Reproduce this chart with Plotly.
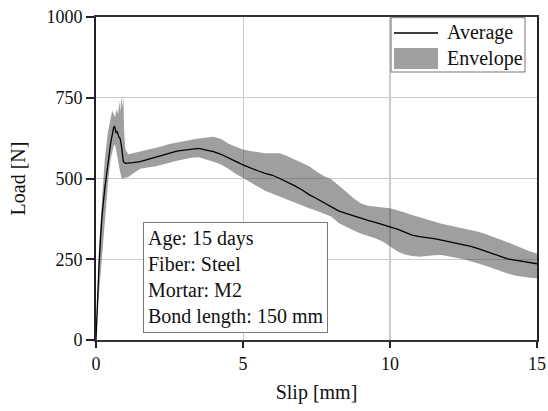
import plotly.graph_objects as go

# ---- data ----
avg_x = [0, 0.05, 0.1, 0.15, 0.2, 0.3, 0.4, 0.5, 0.6, 0.63, 0.68, 0.72, 0.78, 0.82, 0.87, 0.93,
         1.0, 1.1, 1.25, 1.5, 1.75, 2.0, 2.25, 2.5, 2.75, 3.0, 3.25, 3.5, 3.75, 4.0, 4.25, 4.5, 4.75,
         5.0, 5.25, 5.5, 5.75, 6.0, 6.25, 6.5, 6.75, 7.0, 7.25, 7.5, 7.75, 8.0, 8.25, 8.5, 8.75,
         9.0, 9.25, 9.5, 9.75, 10.0, 10.25, 10.5, 10.75, 11.0, 11.25, 11.5, 11.75, 12.0, 12.25,
         12.5, 12.75, 13.0, 13.25, 13.5, 13.75, 14.0, 14.25, 14.5, 14.75, 15.0]
avg_y = [0, 130, 230, 310, 380, 470, 540, 610, 658, 662, 642, 645, 628, 624, 598, 552,
         547, 547, 549, 552, 559, 566, 572, 579, 585, 588, 591, 593, 588, 583, 575, 565, 553,
         542, 532, 524, 516, 510, 500, 490, 478, 465, 450, 438, 425, 412, 400, 392, 384,
         377, 370, 364, 357, 351, 343, 334, 325, 320, 318, 314, 309, 304, 300,
         296, 290, 283, 275, 266, 258, 251, 247, 243, 239, 236]

up_x = [0, 0.1, 0.2, 0.25, 0.3, 0.4, 0.5, 0.55, 0.6, 0.65, 0.7, 0.75, 0.8, 0.83, 0.86, 0.9, 0.93,
        0.96, 1.0, 1.1, 1.25, 1.5, 1.75, 2.0, 2.25, 2.5, 2.75, 3.0, 3.25, 3.5, 3.75, 4.0, 4.25,
        4.5, 4.75, 5.0, 5.25, 5.5, 5.75, 6.0, 6.25, 6.5, 6.75, 7.0, 7.25, 7.5, 7.75, 8.0, 8.25,
        8.5, 8.75, 9.0, 9.25, 9.5, 9.75, 10.0, 10.25, 10.5, 10.75, 11.0, 11.25, 11.5, 11.75, 12.0,
        12.25, 12.5, 12.75, 13.0, 13.25, 13.5, 13.75, 14.0, 14.25, 14.5, 14.75, 15.0]
up_y = [0, 280, 430, 500, 560, 640, 695, 710, 700, 690, 715, 700, 740, 705, 755, 720, 760,
        640, 590, 575, 578, 583, 588, 593, 600, 607, 612, 617, 620, 624, 627, 629, 622,
        608, 598, 590, 585, 582, 578, 578, 578, 570, 560, 550, 538, 522, 508, 498, 480,
        460, 440, 423, 416, 412, 410, 408, 402, 395, 387, 380, 374, 367, 360, 355,
        350, 346, 342, 335, 328, 320, 312, 303, 293, 283, 275, 268]

lo_x = [0, 0.1, 0.2, 0.3, 0.42, 0.5, 0.6, 0.65, 0.7, 0.8, 0.87, 1.0, 1.1, 1.25, 1.5, 1.75,
        2.0, 2.25, 2.5, 2.75, 3.0, 3.25, 3.5, 3.75, 4.0, 4.25, 4.5, 4.75, 5.0, 5.25, 5.5, 5.75,
        6.0, 6.25, 6.5, 6.75, 7.0, 7.25, 7.5, 7.75, 8.0, 8.25, 8.5, 8.75, 9.0, 9.25, 9.5, 9.75,
        10.0, 10.25, 10.5, 10.75, 11.0, 11.25, 11.5, 11.75, 12.0, 12.25, 12.5, 12.75, 13.0,
        13.25, 13.5, 13.75, 14.0, 14.25, 14.5, 14.75, 15.0]
lo_y = [0, 140, 270, 370, 500, 560, 600, 605, 580, 530, 500, 502, 505, 515, 530, 534,
        537, 543, 549, 555, 560, 564, 566, 560, 552, 543, 530, 515, 500, 488, 475, 462,
        452, 445, 435, 425, 417, 408, 400, 392, 382, 362, 350, 340, 330, 322, 315, 305,
        289, 275, 265, 260, 258, 260, 262, 263, 260, 255, 250, 244, 238,
        230, 222, 213, 206, 200, 196, 193, 191]

x_ticks = [0, 5, 10, 15]
y_ticks = [0, 250, 500, 750, 1000]
info_lines = ["Age: 15 days", "Fiber: Steel", "Mortar: M2", "Bond length: 150 mm"]
legend_labels = ["Average", "Envelope"]

FONT = "Liberation Serif, Times New Roman, serif"
ENV_FILL = "rgba(70,70,70,0.52)"

fig = go.Figure()
fig.add_trace(go.Scatter(
    x=up_x + lo_x[::-1], y=up_y + lo_y[::-1], fill="toself", fillcolor=ENV_FILL,
    line=dict(width=0), mode="lines", showlegend=False, hoverinfo="skip"))
fig.add_trace(go.Scatter(
    x=avg_x, y=avg_y, mode="lines", line=dict(color="black", width=1.3), showlegend=False))

fig.update_layout(
    width=548, height=411,
    margin=dict(l=96, r=11, t=17, b=71, autoexpand=False),
    paper_bgcolor="white", plot_bgcolor="white",
    font=dict(family=FONT, size=18, color="#111"),
    showlegend=False,
)
fig.update_xaxes(
    range=[0, 15], tickvals=x_ticks, ticks="outside", ticklen=6, tickwidth=1.5, tickcolor="#222",
    showline=True, linecolor="#333", linewidth=2, mirror=True, automargin=False,
    showgrid=True, gridcolor="#c8c8c8", gridwidth=1, zeroline=False,
    title=dict(text="Slip [mm]", font=dict(size=20), standoff=12),
    tickfont=dict(size=18),
)
fig.update_yaxes(
    range=[0, 1000], tickvals=y_ticks, ticks="outside", ticklen=8, tickwidth=1.5, tickcolor="#222",
    showline=True, linecolor="#222", linewidth=2, mirror=True, automargin=False,
    showgrid=True, gridcolor="#cccccc", gridwidth=1, zeroline=False,
    title=dict(text="Load [N]", font=dict(size=20), standoff=15),
    tickfont=dict(size=18),
)

# darker grid line at x=10 as in the reference
fig.add_shape(type="line", xref="x", yref="paper", x0=10, x1=10, y0=0, y1=1,
              line=dict(color="#9a9a9a", width=1), layer="below")

# info box
fig.add_annotation(
    xref="paper", yref="paper", x=0.1066, y=0.0217, xanchor="left", yanchor="bottom",
    text="<br>".join(info_lines), align="left", showarrow=False,
    font=dict(family=FONT, size=20, color="#111"),
    bgcolor="white", bordercolor="#777", borderwidth=1, borderpad=4,
)

# manual legend
fig.add_shape(type="rect", xref="paper", yref="paper", x0=0.669, x1=0.9728, y0=0.8297, y1=0.998,
              line=dict(color="#777", width=1), fillcolor="white", layer="above")
fig.add_shape(type="line", xref="paper", yref="paper", x0=0.6757, x1=0.7755, y0=0.9505, y1=0.9505,
              line=dict(color="black", width=1.3), layer="above")
fig.add_shape(type="rect", xref="paper", yref="paper", x0=0.6757, x1=0.7755, y0=0.839, y1=0.904,
              line=dict(width=0), fillcolor="#a0a0a0", layer="above")
fig.add_annotation(xref="paper", yref="paper", x=0.7915, y=0.9505, xanchor="left", yanchor="middle",
                   text=legend_labels[0], showarrow=False, font=dict(family=FONT, size=20, color="#111"))
fig.add_annotation(xref="paper", yref="paper", x=0.7915, y=0.870, xanchor="left", yanchor="middle",
                   text=legend_labels[1], showarrow=False, font=dict(family=FONT, size=20, color="#111"))

fig.write_html("out.html", config={"displayModeBar": False},
               post_script="document.body.style.margin='0px';document.body.style.overflow='hidden';")
